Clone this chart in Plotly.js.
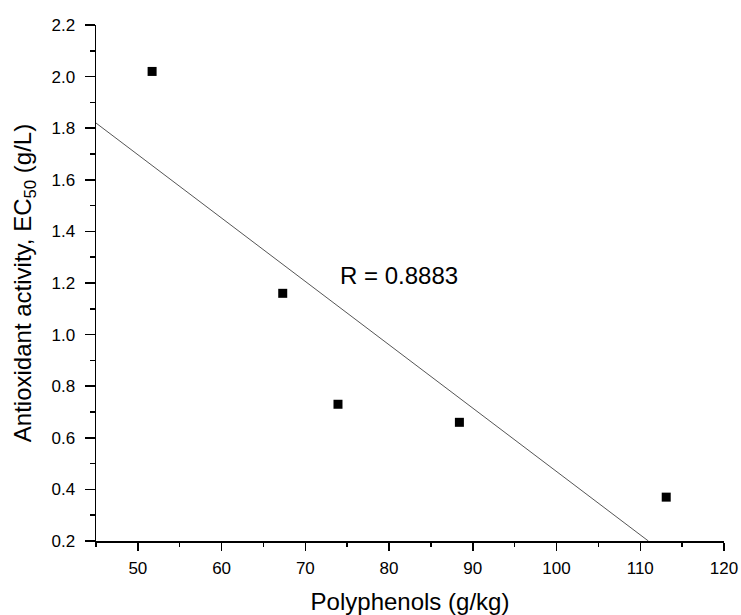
<!DOCTYPE html>
<html>
<head>
<meta charset="utf-8">
<script src="https://cdn.plot.ly/plotly-3.0.1.min.js"></script>
<style>html,body{margin:0;padding:0;background:#fff;}#chart{width:741px;height:615px;}</style>
</head>
<body>
<div id="chart"></div>
<script>
var polyphenols = [51.7, 67.3, 73.9, 88.4, 113.1];
var ec50 = [2.02, 1.16, 0.73, 0.66, 0.37];
var rLabel = "R = 0.8883";
var xRange = [45, 120];
var yRange = [0.2, 2.2];

// linear regression fit
var n = polyphenols.length;
var mx = polyphenols.reduce(function(a,b){return a+b;},0)/n;
var my = ec50.reduce(function(a,b){return a+b;},0)/n;
var sxy = 0, sxx = 0;
for (var i=0;i<n;i++){ sxy += (polyphenols[i]-mx)*(ec50[i]-my); sxx += (polyphenols[i]-mx)*(polyphenols[i]-mx); }
var slope = sxy/sxx, intercept = my - slope*mx;
var fitX = [xRange[0], (yRange[0]-intercept)/slope];
var fitY = fitX.map(function(x){return intercept + slope*x;});

var font = "Liberation Sans, Arial, sans-serif";
var traces = [
  {x: fitX, y: fitY, mode: 'lines', line: {color: '#555', width: 1}, hoverinfo: 'skip', showlegend: false},
  {x: polyphenols, y: ec50, mode: 'markers', marker: {symbol: 'square', size: 9, color: '#000'}, showlegend: false}
];
var layout = {
  width: 741, height: 615,
  margin: {l: 96, r: 17, t: 25, b: 74},
  paper_bgcolor: '#fff', plot_bgcolor: '#fff',
  font: {family: font, color: '#000'},
  showlegend: false,
  xaxis: {
    range: xRange, tick0: 50, dtick: 10, ticks: 'outside', ticklen: 8, tickwidth: 1.5, tickcolor: '#000',
    minor: {tick0: 45, dtick: 5, ticks: 'outside', ticklen: 4, tickwidth: 1.5, tickcolor: '#000'},
    showline: true, linecolor: '#000', linewidth: 1.5, showgrid: false, zeroline: false,
    tickfont: {size: 17, family: font}, ticklabelstandoff: 3,
    title: {text: 'Polyphenols (g/kg)', font: {size: 24, family: font}, standoff: 16}
  },
  yaxis: {
    range: yRange, tick0: 0.2, dtick: 0.2, tickformat: '.1f', ticks: 'outside', ticklen: 10, tickwidth: 1.5, tickcolor: '#000',
    minor: {dtick: 0.1, ticks: 'outside', ticklen: 5, tickwidth: 1.5, tickcolor: '#000'},
    showline: true, linecolor: '#000', linewidth: 1.5, showgrid: false, zeroline: false,
    tickfont: {size: 17, family: font}, ticklabelstandoff: 6,
    title: {text: 'Antioxidant activity, EC<sub>50</sub> (g/L)', font: {size: 24, family: font}, standoff: 13}
  },
  annotations: [{x: 81.2, y: 1.23, xref: 'x', yref: 'y', text: rLabel, showarrow: false, font: {size: 24, family: font, color: '#000'}}]
};
Plotly.newPlot('chart', traces, layout, {staticPlot: true});
</script>
</body>
</html>
